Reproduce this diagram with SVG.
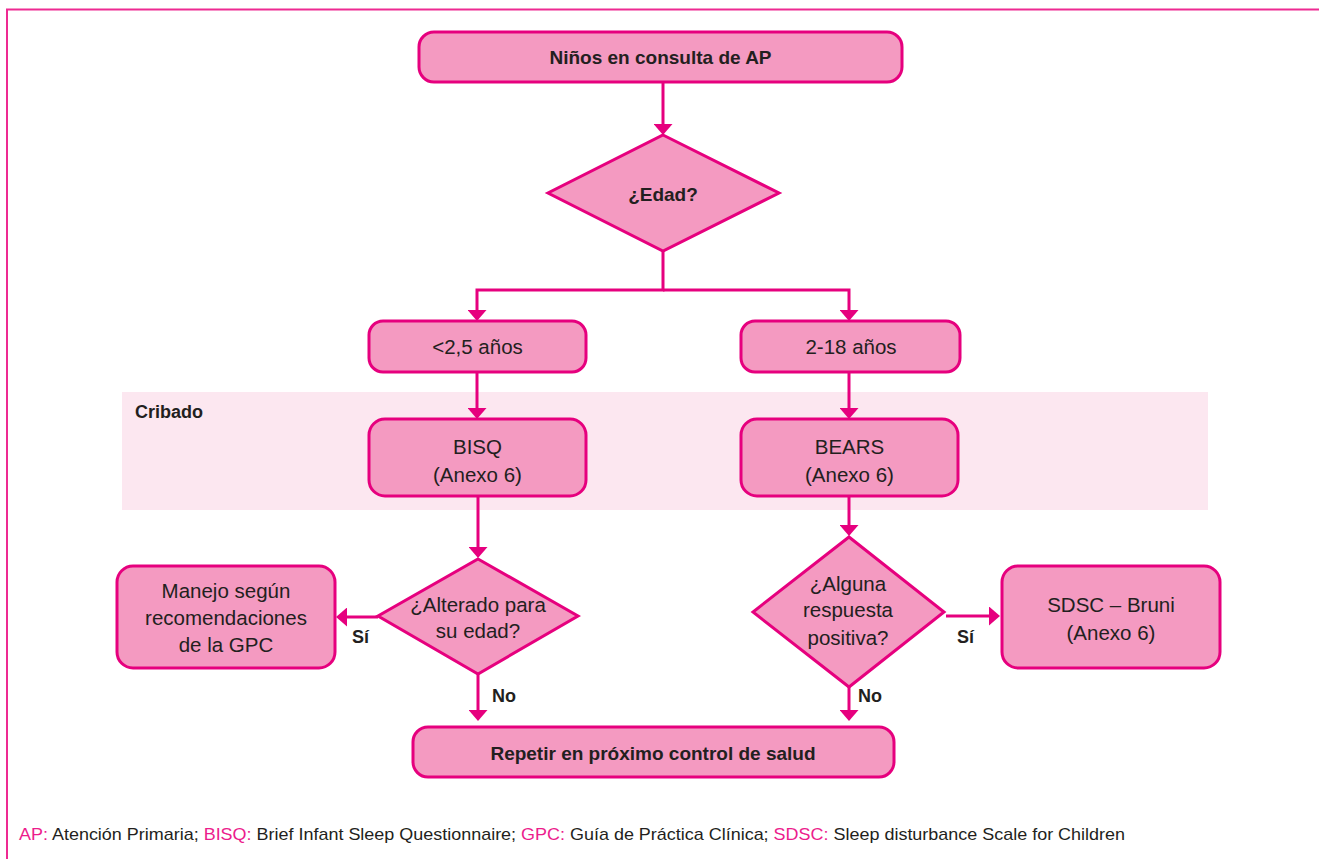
<svg xmlns="http://www.w3.org/2000/svg" width="1319" height="859" viewBox="0 0 1319 859">
<style>
.box{fill:#f49ac1;stroke:#e6007e;stroke-width:3}
.conn{fill:none;stroke:#e6007e;stroke-width:3}
.t{font-family:"Liberation Sans",Arial,sans-serif;fill:#231f20;text-anchor:middle}
.b{font-weight:bold;font-size:19px}
.r{font-size:20.5px}
.lbl{font-family:"Liberation Sans",Arial,sans-serif;fill:#231f20;font-weight:bold;font-size:18px}
.foot{font-family:"Liberation Sans",Arial,sans-serif;fill:#231f20;font-size:17px}
.pk{fill:#ec1c8c}
</style>
<defs>
<marker id="ah" markerUnits="userSpaceOnUse" markerWidth="11" markerHeight="19" refX="6" refY="9.5" orient="auto">
<path d="M0,0 L11,9.5 L0,19 z" fill="#e6007e"/>
</marker>
</defs>
<rect width="1319" height="859" fill="#ffffff"/>
<path d="M7,859 V9.5 H1319" fill="none" stroke="#ee2a92" stroke-width="2"/>
<rect id="band" x="122" y="392" width="1086" height="118" fill="#fce7f0"/>
<text class="lbl" x="135" y="418">Cribado</text>

<g id="connectors">
<path class="conn" d="M663,82 V130" marker-end="url(#ah)"/>
<path class="conn" d="M663,251 V290 H477 V316" marker-end="url(#ah)"/>
<path class="conn" d="M663,290 H849 V316" marker-end="url(#ah)"/>
<path class="conn" d="M477,372 V414" marker-end="url(#ah)"/>
<path class="conn" d="M849,372 V414" marker-end="url(#ah)"/>
<path class="conn" d="M478,496 V553" marker-end="url(#ah)"/>
<path class="conn" d="M849,496 V531" marker-end="url(#ah)"/>
<path class="conn" d="M378,617 H341" marker-end="url(#ah)"/>
<path class="conn" d="M946,616 H995" marker-end="url(#ah)"/>
<path class="conn" d="M478,674 V716" marker-end="url(#ah)"/>
<path class="conn" d="M849,687 V716" marker-end="url(#ah)"/>
<text class="lbl" x="352" y="643">Sí</text>
<text class="lbl" x="492" y="702">No</text>
<text class="lbl" x="957" y="643">Sí</text>
<text class="lbl" x="858" y="702">No</text>
</g>

<g id="start">
<rect class="box" x="419" y="32" width="483" height="50" rx="15"/>
<text class="t b" x="660.5" y="64">Niños en consulta de AP</text>
</g>
<g id="edad">
<polygon class="box" points="663,135 779,193 663,251 548,193"/>
<text class="t b" x="663" y="201">¿Edad?</text>
</g>
<g id="menor">
<rect class="box" x="369" y="321" width="217" height="51" rx="14"/>
<text class="t r" x="477.5" y="354">&lt;2,5 años</text>
</g>
<g id="mayor">
<rect class="box" x="741" y="321" width="219" height="51" rx="14"/>
<text class="t r" x="851" y="354">2-18 años</text>
</g>
<g id="bisq">
<rect class="box" x="369" y="419" width="217" height="77" rx="16"/>
<text class="t r" x="477.5" y="454">BISQ</text>
<text class="t r" x="477.5" y="482">(Anexo 6)</text>
</g>
<g id="bears">
<rect class="box" x="741" y="419" width="217" height="77" rx="16"/>
<text class="t r" x="849.5" y="454">BEARS</text>
<text class="t r" x="849.5" y="482">(Anexo 6)</text>
</g>
<g id="alterado">
<polygon class="box" points="478,559 578,616 478,674 378,616"/>
<text class="t r" x="478" y="612">¿Alterado para</text>
<text class="t r" x="478" y="638">su edad?</text>
</g>
<g id="manejo">
<rect class="box" x="117" y="566" width="218" height="102" rx="16"/>
<text class="t r" x="226" y="598">Manejo según</text>
<text class="t r" x="226" y="625">recomendaciones</text>
<text class="t r" x="226" y="652">de la GPC</text>
</g>
<g id="alguna">
<polygon class="box" points="849,537 944,612 849,687 753,612"/>
<text class="t r" x="848" y="591">¿Alguna</text>
<text class="t r" x="848" y="617">respuesta</text>
<text class="t r" x="848" y="645">positiva?</text>
</g>
<g id="sdsc">
<rect class="box" x="1002" y="566" width="218" height="102" rx="16"/>
<text class="t r" x="1111" y="612">SDSC – Bruni</text>
<text class="t r" x="1111" y="640">(Anexo 6)</text>
</g>
<g id="repetir">
<rect class="box" x="413" y="727" width="481" height="50" rx="15"/>
<text class="t b" x="653" y="760">Repetir en próximo control de salud</text>
</g>
<text id="footer" class="foot" x="19" y="840" textLength="1106" lengthAdjust="spacingAndGlyphs"><tspan class="pk">AP:</tspan> Atención Primaria; <tspan class="pk">BISQ:</tspan> Brief Infant Sleep Questionnaire; <tspan class="pk">GPC:</tspan> Guía de Práctica Clínica; <tspan class="pk">SDSC:</tspan> Sleep disturbance Scale for Children</text>
</svg>
